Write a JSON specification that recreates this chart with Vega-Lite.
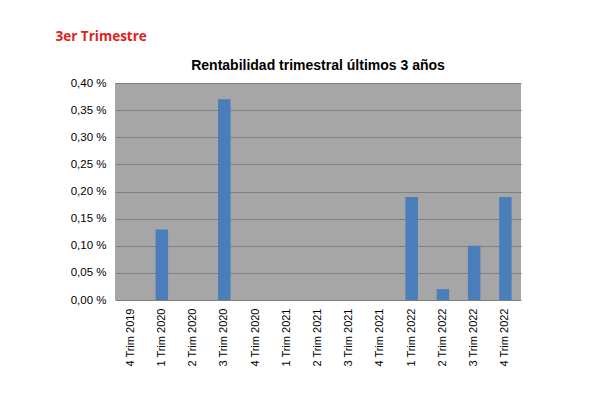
{
  "$schema": "https://vega.github.io/schema/vega-lite/v6.json",
  "width": 406,
  "height": 217,
  "autosize": {"type": "none"},
  "padding": {"left": 115, "top": 83, "right": 90, "bottom": 117},
  "background": "white",
  "title": {
    "text": "Rentabilidad trimestral últimos 3 años",
    "font": "Liberation Sans",
    "fontSize": 14,
    "fontWeight": "bold",
    "color": "#000000",
    "anchor": "middle",
    "offset": -44
  },
  "config": {
    "view": {"fill": "#A6A6A6", "stroke": null},
    "font": "Liberation Sans"
  },
  "data": {
    "values": [
      {"trimestre": "4 Trim 2019", "rentabilidad": 0},
      {"trimestre": "1 Trim 2020", "rentabilidad": 0.13},
      {"trimestre": "2 Trim 2020", "rentabilidad": 0},
      {"trimestre": "3 Trim 2020", "rentabilidad": 0.37},
      {"trimestre": "4 Trim 2020", "rentabilidad": 0},
      {"trimestre": "1 Trim 2021", "rentabilidad": 0},
      {"trimestre": "2 Trim 2021", "rentabilidad": 0},
      {"trimestre": "3 Trim 2021", "rentabilidad": 0},
      {"trimestre": "4 Trim 2021", "rentabilidad": 0},
      {"trimestre": "1 Trim 2022", "rentabilidad": 0.19},
      {"trimestre": "2 Trim 2022", "rentabilidad": 0.02},
      {"trimestre": "3 Trim 2022", "rentabilidad": 0.10},
      {"trimestre": "4 Trim 2022", "rentabilidad": 0.19}
    ]
  },
  "mark": {"type": "bar", "color": "#4A7EBB"},
  "encoding": {
    "x": {
      "field": "trimestre",
      "type": "nominal",
      "sort": null,
      "scale": {"paddingInner": 0.6, "paddingOuter": 0.3},
      "axis": {
        "title": null,
        "labelAngle": -90,
        "labelAlign": "right",
        "labelBaseline": "middle",
        "labelFontSize": 11,
        "labelColor": "#000000",
        "labelPadding": 8,
        "ticks": false,
        "domain": false,
        "grid": false
      }
    },
    "y": {
      "field": "rentabilidad",
      "type": "quantitative",
      "scale": {"domain": [0, 0.4], "nice": false},
      "axis": {
        "values": [0, 0.05, 0.1, 0.15, 0.2, 0.25, 0.3, 0.35, 0.4],
        "labelExpr": "replace(format(datum.value, '.2f'), '.', ',') + ' %'",
        "labelFontSize": 11.5,
        "labelColor": "#000000",
        "labelPadding": 9,
        "ticks": false,
        "domain": false,
        "grid": true,
        "gridColor": "#7F7F7F",
        "gridWidth": 1,
        "title": "3er Trimestre",
        "titleAngle": 0,
        "titleAlign": "left",
        "titleBaseline": "alphabetic",
        "titleX": -60,
        "titleY": -43,
        "titleColor": "#E0201B",
        "titleFontSize": 13.5,
        "titleFont": "Open Sans",
        "titleFontWeight": "bold"
      }
    }
  }
}
